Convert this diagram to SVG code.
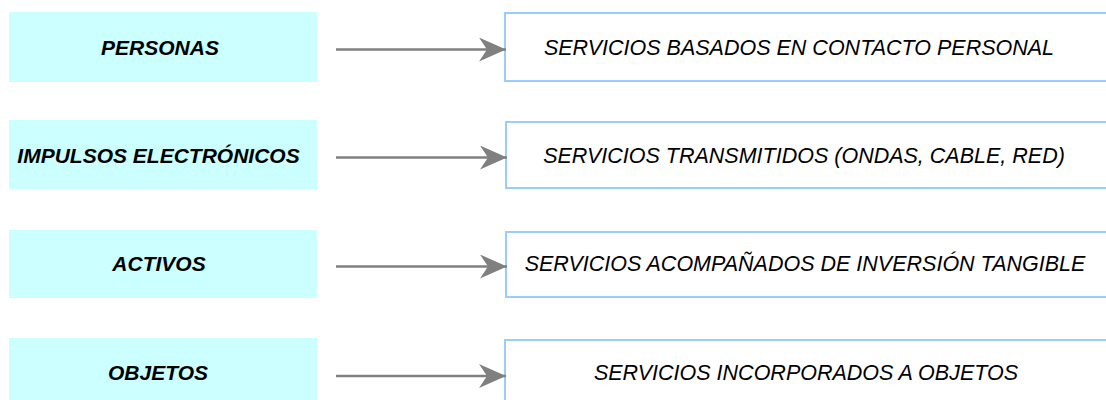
<svg xmlns="http://www.w3.org/2000/svg" width="1106" height="400" viewBox="0 0 1106 400">
  <style>
    .src { fill: #ccffff; stroke: none; }
    .dst { fill: #ffffff; stroke: #99ccff; stroke-width: 2; }
    .src-label { font-family: "Liberation Sans", Arial, sans-serif; font-size: 21px; font-weight: bold; font-style: italic; fill: #000000; text-anchor: middle; }
    .dst-label { font-family: "Liberation Sans", Arial, sans-serif; font-size: 21.5px; font-style: italic; fill: #000000; text-anchor: middle; }
    .link { stroke: #808080; stroke-width: 2.5; fill: none; marker-end: url(#head); }
  </style>
  <defs>
    <marker id="head" markerUnits="userSpaceOnUse" markerWidth="30" markerHeight="26" refX="27" refY="12" orient="auto">
      <path d="M0,0 L27,12 L0,24 L8,12 Z" fill="#808080"/>
    </marker>
  </defs>

  <rect width="1106" height="400" fill="#ffffff"/>

  <!-- Row 1 -->
  <g id="personas">
    <rect class="src" x="9" y="12" width="308" height="70"/>
    <text class="src-label" x="160" y="54.5">PERSONAS</text>
  </g>
  <g id="contacto-personal">
    <rect class="dst" x="505" y="13" width="620" height="68"/>
    <text class="dst-label" x="799" y="55">SERVICIOS BASADOS EN CONTACTO PERSONAL</text>
  </g>

  <!-- Row 2 -->
  <g id="impulsos">
    <rect class="src" x="9" y="120" width="308" height="69"/>
    <text class="src-label" x="158.5" y="162.5">IMPULSOS ELECTRÓNICOS</text>
  </g>
  <g id="transmitidos">
    <rect class="dst" x="506" y="122" width="620" height="66"/>
    <text class="dst-label" x="804" y="163">SERVICIOS TRANSMITIDOS (ONDAS, CABLE, RED)</text>
  </g>

  <!-- Row 3 -->
  <g id="activos">
    <rect class="src" x="9" y="230" width="308" height="68"/>
    <text class="src-label" x="159" y="270.5">ACTIVOS</text>
  </g>
  <g id="inversion-tangible">
    <rect class="dst" x="506" y="232" width="620" height="65"/>
    <text class="dst-label" x="805" y="270.5">SERVICIOS ACOMPAÑADOS DE INVERSIÓN TANGIBLE</text>
  </g>

  <!-- Row 4 -->
  <g id="objetos">
    <rect class="src" x="9" y="338" width="308" height="70"/>
    <text class="src-label" x="158" y="379.5">OBJETOS</text>
  </g>
  <g id="incorporados">
    <rect class="dst" x="505" y="340" width="620" height="70"/>
    <text class="dst-label" x="806" y="379.5">SERVICIOS INCORPORADOS A OBJETOS</text>
  </g>

  <!-- Connectors -->
  <g id="connectors">
    <line class="link" x1="336" y1="49.5" x2="506" y2="49.5"/>
    <line class="link" x1="336" y1="157.5" x2="507" y2="157.5"/>
    <line class="link" x1="336" y1="266.5" x2="507" y2="266.5"/>
    <line class="link" x1="336" y1="376" x2="506" y2="376"/>
  </g>
</svg>
